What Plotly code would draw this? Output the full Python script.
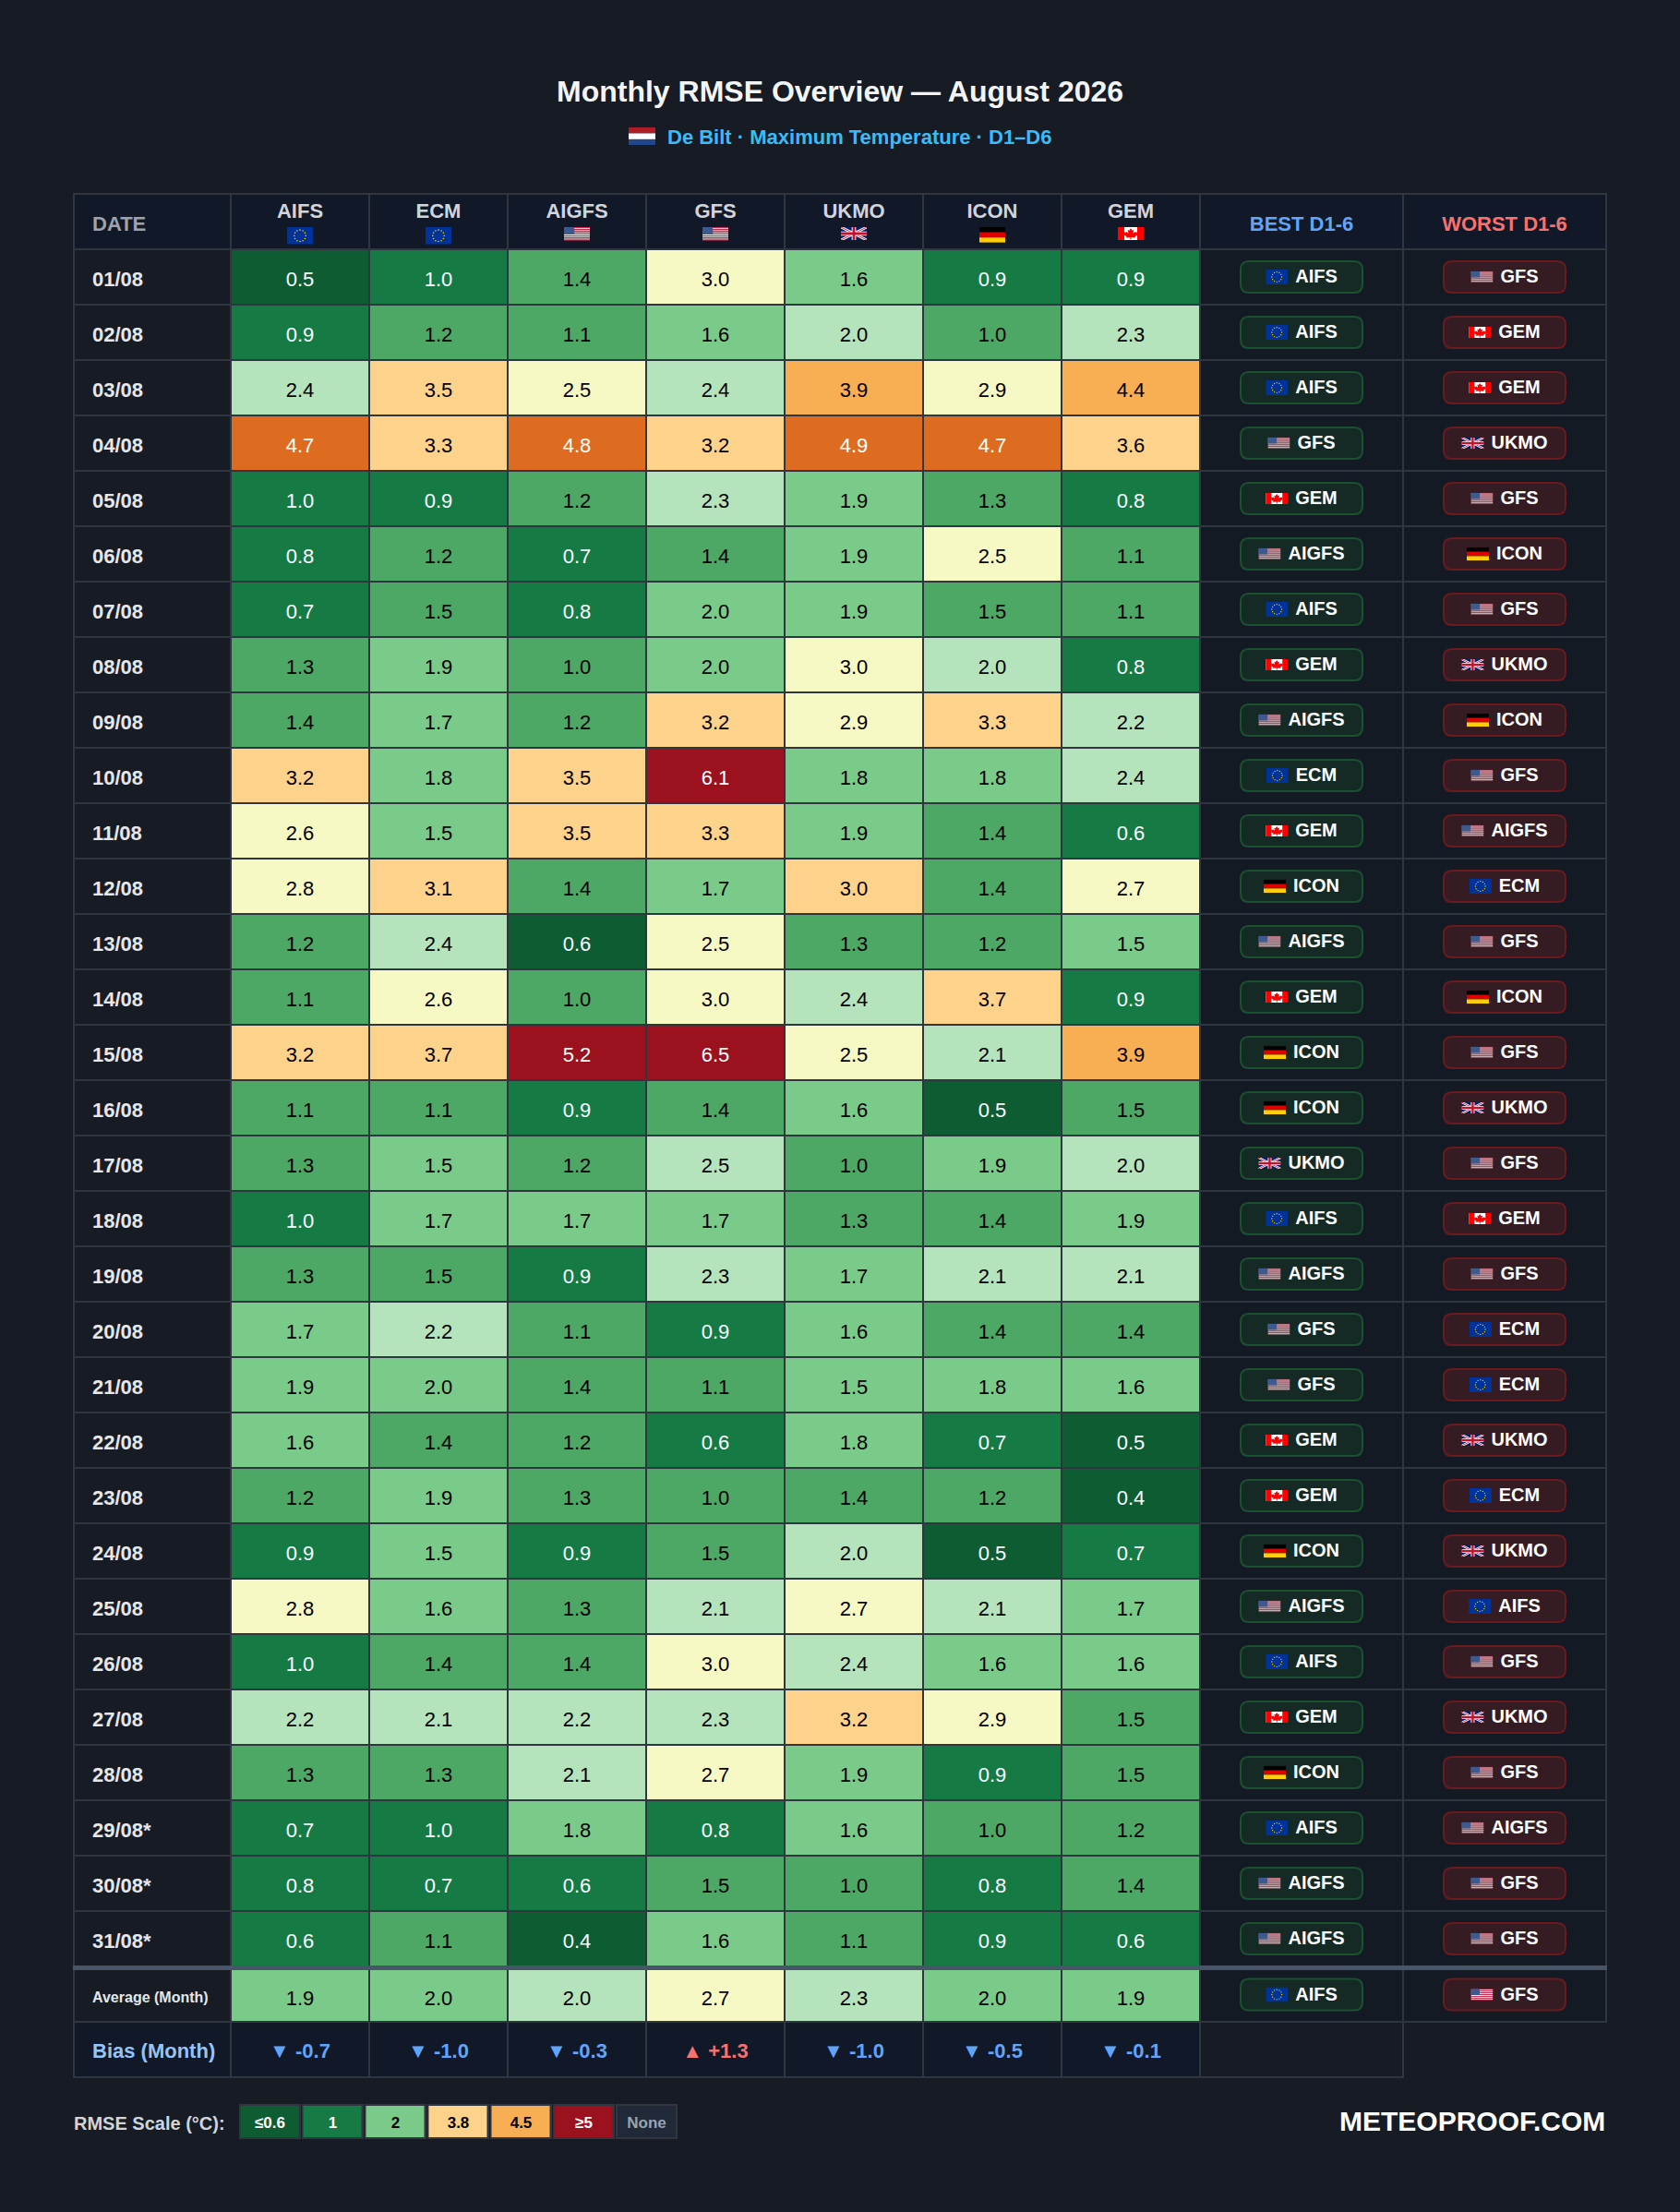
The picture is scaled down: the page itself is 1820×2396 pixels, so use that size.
import base64

import plotly.graph_objects as go

DATES = [
    "01/08", "02/08", "03/08", "04/08", "05/08", "06/08", "07/08", "08/08", "09/08", "10/08", "11/08",
    "12/08", "13/08", "14/08", "15/08", "16/08", "17/08", "18/08", "19/08", "20/08", "21/08", "22/08",
    "23/08", "24/08", "25/08", "26/08", "27/08", "28/08", "29/08*", "30/08*", "31/08*",
]
MODELS = ["AIFS", "ECM", "AIGFS", "GFS", "UKMO", "ICON", "GEM"]
MODEL_FLAGS = ["eu", "eu", "us", "us", "uk", "de", "ca"]

AIFS = [0.5, 0.9, 2.4, 4.7, 0.98, 0.8, 0.7, 1.3, 1.4, 3.2, 2.6, 2.8, 1.2, 1.1, 3.2, 1.1,
        1.3, 0.98, 1.3, 1.7, 1.9, 1.6, 1.2, 0.9, 2.8, 0.98, 2.2, 1.3, 0.7, 0.8, 0.62]
ECM = [0.98, 1.2, 3.5, 3.3, 0.9, 1.2, 1.48, 1.9, 1.7, 1.8, 1.54, 3.1, 2.4, 2.6, 3.7, 1.1,
       1.54, 1.7, 1.48, 2.2, 1.98, 1.4, 1.9, 1.54, 1.6, 1.4, 2.1, 1.3, 0.98, 0.7, 1.1]
AIGFS = [1.4, 1.1, 2.54, 4.8, 1.2, 0.7, 0.8, 1.04, 1.2, 3.5, 3.5, 1.4, 0.58, 1.04, 5.2, 0.9,
         1.2, 1.7, 0.9, 1.1, 1.4, 1.2, 1.3, 0.9, 1.3, 1.4, 2.2, 2.1, 1.8, 0.62, 0.4]
GFS = [2.98, 1.6, 2.4, 3.2, 2.3, 1.4, 1.98, 1.98, 3.2, 6.1, 3.3, 1.7, 2.54, 2.98, 6.5, 1.4,
       2.46, 1.7, 2.3, 0.9, 1.1, 0.62, 1.04, 1.48, 2.1, 2.98, 2.3, 2.7, 0.8, 1.48, 1.6]
UKMO = [1.6, 2.04, 3.9, 4.9, 1.9, 1.9, 1.9, 2.98, 2.9, 1.8, 1.9, 3.04, 1.3, 2.4, 2.54, 1.6,
        1.04, 1.3, 1.7, 1.6, 1.54, 1.8, 1.4, 2.04, 2.7, 2.4, 3.2, 1.9, 1.6, 1.04, 1.1]
ICON = [0.9, 1.04, 2.9, 4.7, 1.3, 2.54, 1.48, 2.04, 3.3, 1.8, 1.4, 1.4, 1.2, 3.7, 2.1, 0.5,
        1.9, 1.4, 2.1, 1.4, 1.8, 0.7, 1.2, 0.5, 2.1, 1.6, 2.9, 0.9, 1.04, 0.8, 0.9]
GEM = [0.9, 2.3, 4.4, 3.6, 0.8, 1.1, 1.1, 0.8, 2.2, 2.4, 0.62, 2.7, 1.54, 0.9, 3.9, 1.48,
       2.04, 1.9, 2.1, 1.4, 1.6, 0.5, 0.4, 0.7, 1.7, 1.6, 1.48, 1.48, 1.2, 1.4, 0.62]

AVERAGE = [1.9, 1.98, 2.04, 2.7, 2.3, 1.98, 1.9]
BIAS = [-0.7, -1.0, -0.3, 1.3, -1.0, -0.5, -0.1]

BEST = ["AIFS", "AIFS", "AIFS", "GFS", "GEM", "AIGFS", "AIFS", "GEM", "AIGFS", "ECM", "GEM", "ICON", "AIGFS",
        "GEM", "ICON", "ICON", "UKMO", "AIFS", "AIGFS", "GFS", "GFS", "GEM", "GEM", "ICON", "AIGFS", "AIFS",
        "GEM", "ICON", "AIFS", "AIGFS", "AIGFS", "AIFS"]
WORST = ["GFS", "GEM", "GEM", "UKMO", "GFS", "ICON", "GFS", "UKMO", "ICON", "GFS", "AIGFS", "ECM", "GFS",
         "ICON", "GFS", "UKMO", "GFS", "GEM", "GFS", "ECM", "ECM", "UKMO", "ECM", "UKMO", "AIFS", "GFS",
         "UKMO", "GFS", "AIGFS", "GFS", "GFS", "GFS"]

LEGEND_LABELS = ["≤0.6", "1", "2", "3.8", "4.5", "≥5", "None"]
LEGEND_Z = [0.5, 0.9, 1.9, 3.5, 4.2, 5.5, None]

# RMSE bins: upper limit and colour
BIN_LIMITS = [0.6, 1.0, 1.5, 2.0, 2.5, 3.0, 3.8, 4.5, 5.0, 7.0]
BIN_COLORS = ["#0d5c32", "#157a43", "#4da866", "#7acb8a", "#b5e3bb",
              "#f7f9c4", "#fdd28a", "#f8ae52", "#de6c20", "#9b111e"]
Z_MAX = 7.0

# ---- layout constants (page pixels)
W, H = 1820, 2396
DATE_X = 80
MODEL_X0 = 250
MODEL_W = 150
MODELS_END = MODEL_X0 + MODEL_W * 7
BEST_END = MODELS_END + 220
WORST_END = BEST_END + 220
TOP = 210
HEAD_END = 270
ROW_H = 60
ROWS_END = HEAD_END + ROW_H * 31
AVG_Y0 = ROWS_END + 3
AVG_END = ROWS_END + 60
BIAS_END = AVG_END + 60

PAGE_BG = "#161b24"
HEAD_BG = "#111827"
DATE_BG = "#171c24"
SIDE_BG = "#131a24"
GRID = "#2f3640"
FONT = "Liberation Sans"

# width in em of the model names in bold, to centre flag + name in the pills
NAME_EM = {"AIFS": 2.278, "ECM": 2.222, "AIGFS": 3.056, "GFS": 2.056, "UKMO": 3.055, "ICON": 2.5, "GEM": 2.278}
FLAG_RATIO = {"eu": 1.5, "us": 1.9, "uk": 2.0, "de": 5 / 3, "ca": 2.0, "nl": 1.5}
MODEL_TO_FLAG = dict(zip(MODELS, MODEL_FLAGS))


def svg_uri(body, w, h):
    svg = f'<svg xmlns="http://www.w3.org/2000/svg" viewBox="0 0 {w} {h}" preserveAspectRatio="none">{body}</svg>'
    return "data:image/svg+xml;base64," + base64.b64encode(svg.encode()).decode()


def flag_eu():
    stars = [(45 + 20 * dx, 30 + 20 * dy) for dx, dy in [
        (0, -1), (.5, -.866), (.866, -.5), (1, 0), (.866, .5), (.5, .866),
        (0, 1), (-.5, .866), (-.866, .5), (-1, 0), (-.866, -.5), (-.5, -.866)]]
    dots = "".join(f'<circle cx="{x}" cy="{y}" r="2.6" fill="#ffcc00"/>' for x, y in stars)
    return svg_uri(f'<rect width="90" height="60" fill="#003399"/>{dots}', 90, 60)


def flag_us():
    stripes = "".join(
        f'<rect y="{i * 10}" width="247" height="10" fill="{"#d0284a" if i % 2 == 0 else "#ffffff"}"/>'
        for i in range(13)
    )
    return svg_uri(f'{stripes}<rect width="99" height="70" fill="#3c5a8e"/>', 247, 130)


def flag_uk():
    body = (
        '<rect width="60" height="30" fill="#012169"/>'
        '<path d="M0 0L60 30M60 0L0 30" stroke="#fff" stroke-width="6"/>'
        '<path d="M0 0L60 30M60 0L0 30" stroke="#c8102e" stroke-width="2"/>'
        '<path d="M30 0V30M0 15H60" stroke="#fff" stroke-width="10"/>'
        '<path d="M30 0V30M0 15H60" stroke="#c8102e" stroke-width="6"/>'
    )
    return svg_uri(body, 60, 30)


def flag_de():
    body = ('<rect width="50" height="10" fill="#000"/><rect y="10" width="50" height="10" fill="#dd0000"/>'
            '<rect y="20" width="50" height="10" fill="#ffce00"/>')
    return svg_uri(body, 50, 30)


def flag_ca():
    leaf = ('<path d="M50 5L44 16L38 13L41 29L33 21L31 25L23 23L26 32L22 34L34 44L32 49L48 47L48 57H52L52 47'
            'L68 49L66 44L78 34L74 32L77 23L69 25L67 21L59 29L62 13L56 16Z" fill="#ff0000"/>')
    body = ('<rect width="100" height="50" fill="#fff" transform="scale(1 1.2)"/>'
            '<rect width="25" height="60" fill="#ff0000"/><rect x="75" width="25" height="60" fill="#ff0000"/>' + leaf)
    return svg_uri(body, 100, 60)


def flag_nl():
    body = ('<rect width="90" height="20" fill="#ae1c28"/><rect y="20" width="90" height="20" fill="#fff"/>'
            '<rect y="40" width="90" height="20" fill="#21468b"/>')
    return svg_uri(body, 90, 60)


FLAG_SRC = {"eu": flag_eu(), "us": flag_us(), "uk": flag_uk(), "de": flag_de(), "ca": flag_ca(), "nl": flag_nl()}


def flag_image(code, x, y, w, centered=True):
    h = w / FLAG_RATIO[code]
    return dict(source=FLAG_SRC[code], xref="x", yref="y", x=x, y=y - h / 2 if centered else y,
                sizex=w, sizey=h, xanchor="left", yanchor="top", sizing="stretch", layer="above")


def rect(x0, y0, x1, y1, fill, line=None, line_w=0):
    return dict(type="rect", xref="x", yref="y", x0=x0, y0=y0, x1=x1, y1=y1, fillcolor=fill, layer="below",
                line=dict(color=line or fill, width=line_w))


def pill(x0, y0, x1, y1, fill, line):
    r = 9
    path = (f"M{x0 + r},{y0} L{x1 - r},{y0} Q{x1},{y0} {x1},{y0 + r} L{x1},{y1 - r} Q{x1},{y1} {x1 - r},{y1} "
            f"L{x0 + r},{y1} Q{x0},{y1} {x0},{y1 - r} L{x0},{y0 + r} Q{x0},{y0} {x0 + r},{y0} Z")
    return dict(type="path", xref="x", yref="y", path=path, fillcolor=fill, layer="below",
                line=dict(color=line, width=2))


def text_trace(xs, ys, labels, size, color, bold=False, position="middle center"):
    return go.Scatter(
        x=xs, y=ys, text=labels, mode="text", textposition=position, hoverinfo="skip", showlegend=False,
        cliponaxis=False,
        textfont=dict(family=FONT, size=size, color=color, weight="bold" if bold else "normal"),
    )


def cell_text_color(v):
    return "#ffffff" if v <= 1.0 or v > 4.5 else "#000000"


def build_colorscale():
    scale = []
    lower = 0.0
    for limit, colour in zip(BIN_LIMITS, BIN_COLORS):
        scale.append([lower / Z_MAX, colour])
        scale.append([limit / Z_MAX, colour])
        lower = limit
    return scale


series = [AIFS, ECM, AIGFS, GFS, UKMO, ICON, GEM]
rows = [[col[i] for col in series] for i in range(len(DATES))]
col_edges = [MODEL_X0 + MODEL_W * i for i in range(8)]
col_mid = [MODEL_X0 + MODEL_W * i + MODEL_W / 2 for i in range(7)]
row_edges = [HEAD_END + ROW_H * i for i in range(32)]
row_mid = [HEAD_END + ROW_H * i + ROW_H / 2 for i in range(31)]
avg_mid = (AVG_Y0 + AVG_END) / 2
bias_mid = (AVG_END + BIAS_END) / 2

colorscale = build_colorscale()
fig = go.Figure()

# backgrounds, grid
shapes = [
    rect(DATE_X - 1, TOP - 1, WORST_END + 1, AVG_END + 1, GRID),
    rect(DATE_X - 1, AVG_END, BEST_END + 1, BIAS_END + 1, GRID),
    rect(DATE_X + 1, TOP + 1, MODEL_X0 - 1, HEAD_END - 1, HEAD_BG),
]
for x0, x1 in zip(col_edges[:-1], col_edges[1:]):
    shapes.append(rect(x0 + 1, TOP + 1, x1 - 1, HEAD_END - 1, HEAD_BG))
    shapes.append(rect(x0 + 1, AVG_END + 1, x1 - 1, BIAS_END - 1, HEAD_BG))
shapes.append(rect(MODELS_END + 1, TOP + 1, BEST_END - 1, HEAD_END - 1, HEAD_BG))
shapes.append(rect(BEST_END + 1, TOP + 1, WORST_END - 1, HEAD_END - 1, HEAD_BG))
shapes.append(rect(DATE_X + 1, AVG_END + 1, MODEL_X0 - 1, BIAS_END - 1, HEAD_BG))
shapes.append(rect(MODELS_END + 1, AVG_END + 1, BEST_END - 1, BIAS_END - 1, DATE_BG))
for y0, y1 in zip(row_edges[:-1] + [AVG_Y0], row_edges[1:] + [AVG_END]):
    shapes.append(rect(DATE_X + 1, y0 + 1, MODEL_X0 - 1, y1 - 1, DATE_BG))
    shapes.append(rect(MODELS_END + 1, y0 + 1, BEST_END - 1, y1 - 1, SIDE_BG))
    shapes.append(rect(BEST_END + 1, y0 + 1, WORST_END - 1, y1 - 1, SIDE_BG))
shapes.append(rect(DATE_X - 1, ROWS_END - 1, WORST_END + 1, AVG_Y0 + 1, "#475569"))

# best / worst pills with flags
images = [flag_image("nl", 681, 138, 29, centered=False)]
pill_ys = row_mid + [avg_mid - 1]
best_mid = MODELS_END + 110
worst_mid = BEST_END + 110
for names, mid, fill, line in [(BEST, best_mid, "#152a25", "#1a5130"), (WORST, worst_mid, "#351c22", "#6b1a1e")]:
    for name, y in zip(names, pill_ys):
        shapes.append(pill(mid - 66, y - 17, mid + 66, y + 17, fill, line))
        group_w = 32 + NAME_EM[name] * 20
        images.append(flag_image(MODEL_TO_FLAG[name], mid - group_w / 2, y, 24))

for x, code in zip(col_mid, MODEL_FLAGS):
    images.append(flag_image(code, x - 14, 246, 28, centered=False))

# RMSE cells
fig.add_trace(go.Heatmap(
    z=rows, x=col_edges, y=row_edges, colorscale=colorscale, zmin=0, zmax=Z_MAX,
    xgap=2, ygap=2, showscale=False, hoverinfo="skip",
))
fig.add_trace(go.Heatmap(
    z=[AVERAGE], x=col_edges, y=[AVG_Y0, AVG_END], colorscale=colorscale, zmin=0, zmax=Z_MAX,
    xgap=2, ygap=2, showscale=False, hoverinfo="skip",
))

# value labels
val_x, val_y, val_text, val_color = [], [], [], []
for y, row in zip(row_mid + [avg_mid], rows + [AVERAGE]):
    for x, v in zip(col_mid, row):
        val_x.append(x)
        val_y.append(y + 4.5)
        val_text.append(f"{v:.1f}")
        val_color.append(cell_text_color(v))
fig.add_trace(text_trace(val_x, val_y, val_text, 22, val_color))

# header
fig.add_trace(text_trace(col_mid, [230] * 7, MODELS, 22, "#d1d5db", bold=True))
fig.add_trace(text_trace([100], [244], ["DATE"], 22, "#9ca3af", bold=True, position="middle right"))
fig.add_trace(text_trace([best_mid], [244], ["BEST D1-6"], 22, "#60a5fa", bold=True))
fig.add_trace(text_trace([worst_mid], [244], ["WORST D1-6"], 22, "#f87171", bold=True))

# dates and row labels
fig.add_trace(text_trace([100] * 31, [y + 4.5 for y in row_mid], DATES, 22, "#e5e7eb", bold=True,
                         position="middle right"))
fig.add_trace(text_trace([100], [avg_mid + 3.5], ["Average (Month)"], 16, "#e5e7eb", bold=True,
                         position="middle right"))
fig.add_trace(text_trace([100], [bias_mid + 3.5], ["Bias (Month)"], 22, "#93c5fd", bold=True,
                         position="middle right"))

# bias row
bias_text = [("▲ " if b > 0 else "▼ ") + f"{b:+.1f}" for b in BIAS]
bias_color = ["#f87171" if b > 0 else "#60a5fa" for b in BIAS]
fig.add_trace(text_trace(col_mid, [bias_mid + 3.5] * 7, bias_text, 22, bias_color, bold=True))

# pill names
pill_x = [best_mid + 16] * 32 + [worst_mid + 16] * 32
pill_text_y = [y + 1 for y in pill_ys]
fig.add_trace(text_trace(pill_x, pill_text_y * 2, BEST + WORST, 20, "#ffffff", bold=True))

# colour key
key_edges = [258.5 + 68 * i for i in range(8)]
key_mid = [(a + b) / 2 for a, b in zip(key_edges[:-1], key_edges[1:])]
for x in key_mid:
    shapes.append(rect(x - 33.5, 2279, x + 33.5, 2317, GRID))
shapes.append(rect(key_mid[6] - 31.5, 2281, key_mid[6] + 31.5, 2315, "#1f2937"))
fig.add_trace(go.Heatmap(
    z=[LEGEND_Z], x=key_edges, y=[2281, 2315], colorscale=colorscale, zmin=0, zmax=Z_MAX,
    xgap=5, showscale=False, hoverinfo="skip",
))
key_colors = ["#ffffff", "#ffffff", "#000000", "#000000", "#000000", "#ffffff", "#9ca3af"]
fig.add_trace(text_trace(key_mid, [2301] * 7, LEGEND_LABELS, 17, key_colors, bold=True))
fig.add_trace(text_trace([80], [2302], ["RMSE Scale (°C):"], 20, "#d1d5db", bold=True, position="middle right"))

annotations = [
    dict(text="<b>Monthly RMSE Overview — August 2026</b>", x=909.5, y=99, xref="x", yref="y", showarrow=False,
         font=dict(family=FONT, size=32, color="#f3f4f6"), xanchor="center", yanchor="middle"),
    dict(text="<b>De Bilt · Maximum Temperature · D1–D6</b>", x=720.5, y=148, xref="x", yref="y", showarrow=False,
         font=dict(family=FONT, size=22, color="#38bdf8"), xanchor="left", yanchor="middle"),
    dict(text="<b>METEOPROOF.COM</b>", x=1741, y=2297, xref="x", yref="y", showarrow=False,
         font=dict(family=FONT, size=30, color="#ffffff"), xanchor="right", yanchor="middle"),
]

fig.update_layout(
    width=W, height=H, margin=dict(l=0, r=0, t=0, b=0, pad=0),
    paper_bgcolor=PAGE_BG, plot_bgcolor=PAGE_BG, showlegend=False,
    shapes=shapes, images=images, annotations=annotations,
    xaxis=dict(range=[0, W], visible=False, fixedrange=True),
    yaxis=dict(range=[H, 0], visible=False, fixedrange=True),
)

fig.write_html("out.html", config=dict(displayModeBar=False), post_script="document.body.style.margin='0';")
